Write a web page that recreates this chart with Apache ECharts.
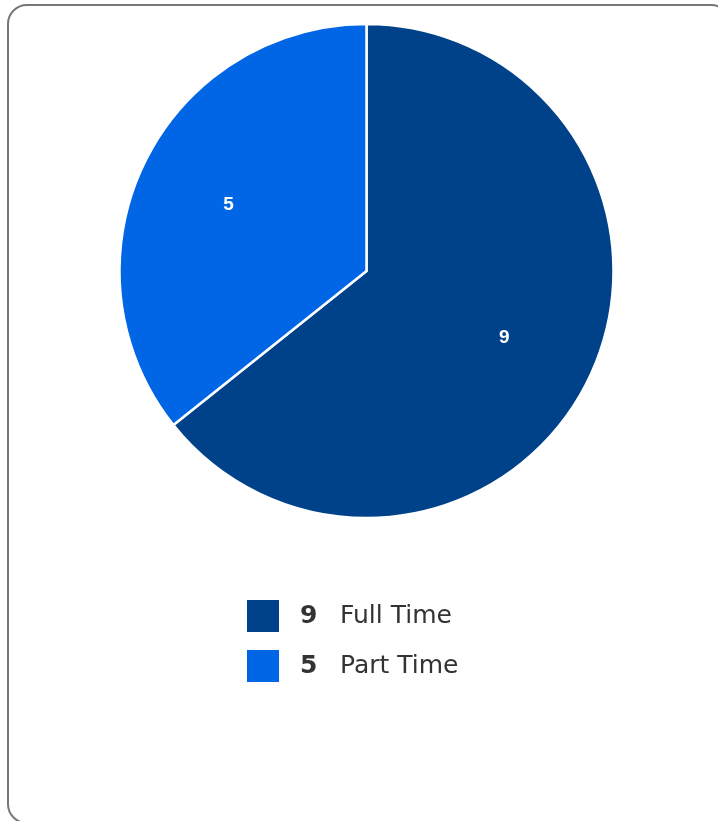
<!DOCTYPE html>
<html>
<head>
<meta charset="utf-8">
<script src="https://cdn.jsdelivr.net/npm/echarts@6/dist/echarts.min.js"></script>
<style>
html,body{margin:0;padding:0;background:#fff;width:718px;height:821px;overflow:hidden;}
#frame{position:absolute;left:7px;top:4px;width:720px;height:816px;border:2px solid #777;border-radius:20px;box-sizing:content-box;}
#chart{position:absolute;left:0;top:0;width:718px;height:821px;}
</style>
</head>
<body>
<div id="frame"></div>
<div id="chart"></div>
<script>
const categories = ['Full Time', 'Part Time'];
const values = [9, 5];
const colors = ['#00428a', '#0066e6'];

const data = categories.map((c, i) => ({ name: c, value: values[i], itemStyle: { color: colors[i] } }));
const labelData = categories.map((c, i) => ({ name: c, value: values[i] }));

const chart = echarts.init(document.getElementById('chart'), null, { renderer: 'canvas' });
chart.setOption({
  animation: false,
  legend: {
    orient: 'vertical',
    left: 247,
    top: 600,
    padding: 0,
    icon: 'rect',
    itemWidth: 32,
    itemHeight: 32,
    itemGap: 18,
    itemStyle: { borderWidth: 0 },
    selectedMode: false,
    data: categories,
    formatter: function (name) {
      const i = categories.indexOf(name);
      return '{v|' + values[i] + '}{n|' + name + '}';
    },
    textStyle: {
      lineHeight: 32,
      rich: {
        v: { fontFamily: 'DejaVu Sans', fontWeight: 'bold', fontSize: 25, lineHeight: 32, color: '#333', width: 40, padding: [0, 0, 0, 16] },
        n: { fontFamily: 'DejaVu Sans', fontSize: 25, lineHeight: 32, color: '#333' }
      }
    }
  },
  series: [
    {
      type: 'pie',
      center: [366.5, 271],
      radius: [0, 247],
      startAngle: 90,
      clockwise: true,
      silent: true,
      itemStyle: { borderColor: '#fff', borderWidth: 2.5 },
      label: { show: false },
      labelLine: { show: false },
      data: data
    },
    {
      type: 'pie',
      center: [366.5, 271],
      radius: [0, 300],
      startAngle: 90,
      clockwise: true,
      silent: true,
      legendHoverLink: false,
      itemStyle: { color: 'rgba(0,0,0,0)' },
      label: {
        show: true,
        position: 'inside',
        formatter: '{c}',
        color: '#fff',
        fontFamily: 'Liberation Sans',
        fontWeight: 'bold',
        fontSize: 19
      },
      labelLine: { show: false },
      data: labelData
    }
  ]
});
</script>
</body>
</html>
